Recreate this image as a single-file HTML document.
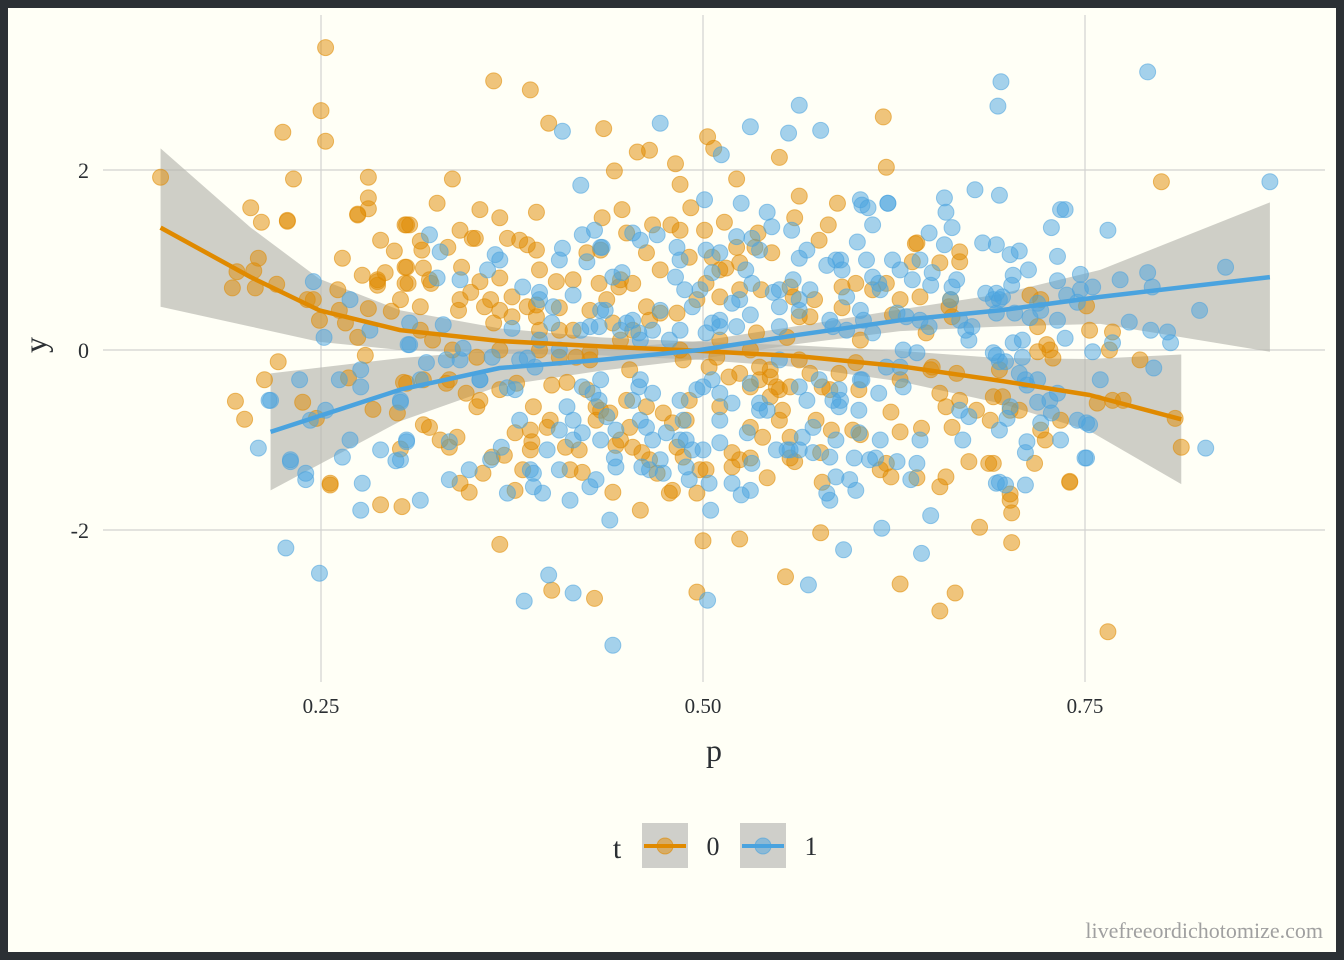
<!DOCTYPE html>
<html><head><meta charset="utf-8">
<style>
html,body{margin:0;padding:0;background:#2b3034;}
#wrap{position:absolute;left:0;top:0;width:1344px;height:960px;background:#2b3034;}
svg{position:absolute;left:0;top:0;}
text{font-family:"Liberation Serif",serif;}
</style></head>
<body>
<div id="wrap">
<svg id="chart" width="1344" height="960">
<rect x="8" y="8" width="1328" height="944" fill="#fffff6"/>
<g id="grid"></g>
<g id="bands"></g>
<g id="pts"></g>
<g id="lines"></g>
<g id="axes"></g>
<text x="714" y="761" font-size="32" text-anchor="middle" fill="#2b2f33">p</text>
<text x="0" y="0" font-size="32" text-anchor="middle" fill="#2b2f33" transform="translate(46,345) rotate(-90)">y</text>
<g>
<text x="617" y="858" font-size="30" text-anchor="middle" fill="#2b2f33">t</text>
<g>
<rect x="642" y="823" width="46" height="45" fill="#cfcfca"/>
<line x1="644" y1="846" x2="686" y2="846" stroke="#e08a00" stroke-width="4"/>
<circle cx="665" cy="846" r="8" fill="#e08a00" fill-opacity="0.5" stroke="#e08a00" stroke-opacity="0.6"/>
<text x="713" y="855" font-size="26" text-anchor="middle" fill="#2b2f33">0</text>
</g>
<g>
<rect x="740" y="823" width="46" height="45" fill="#cfcfca"/>
<line x1="742" y1="846" x2="784" y2="846" stroke="#4aa3df" stroke-width="4"/>
<circle cx="763" cy="846" r="8" fill="#4aa3df" fill-opacity="0.5" stroke="#4aa3df" stroke-opacity="0.6"/>
<text x="811" y="855" font-size="26" text-anchor="middle" fill="#2b2f33">1</text>
</g>
</g>
<text x="1323" y="938" font-size="22" text-anchor="end" fill="#a0a0a0">livefreeordichotomize.com</text>
</svg>
</div>
<script>
const xTicks=[0.25,0.5,0.75];
const xTickLabels=["0.25","0.50","0.75"];
const yTicks=[-2,0,2];
const yTickLabels=["-2","0","2"];
const orangeP=[0.145,0.194,0.192,0.204,0.211,0.225,0.228,0.232,0.253,0.250,0.253,0.274,0.281,0.287,0.308,0.315,0.326,0.336,0.351,0.363,0.387,0.399,0.435,0.442,0.457,0.465,0.482,0.485,0.503,0.507,0.522,0.550,0.563,0.588,0.618,0.620,0.639,0.668,0.800,0.765,0.655,0.665,0.629,0.554,0.577,0.524,0.496,0.500,0.478,0.401,0.429,0.367,0.347,0.321,0.302,0.289,0.256,0.238,0.213,0.200,0.221,0.209,0.241,0.262,0.279,0.315,0.341,0.367,0.393,0.406,0.426,0.446,0.465,0.485,0.511,0.537,0.550,0.563,0.583,0.603,0.629,0.649,0.668,0.688,0.707,0.721,0.734,0.766,0.775,0.809,0.813,0.740,0.701,0.681,0.702,0.655,0.616,0.603,0.577,0.560,0.524,0.465,0.446,0.433,0.354,0.334,0.433,0.446,0.472,0.485,0.511,0.524,0.393,0.380,0.361,0.321,0.400,0.413,0.387,0.550,0.629,0.662,0.721,0.727,0.694,0.753,0.341,0.289,0.302,0.249,0.786,0.459,0.498,0.328,0.544,0.531,0.367,0.406,0.491,0.452,
0.354,0.367,0.391,0.306,0.349,0.372,0.385,0.391,0.316,0.333,0.306,0.317,0.342,0.307,0.322,0.354,0.367,0.348,0.375,0.357,0.385,0.391,0.315,0.340,0.404,0.415,0.424,0.434,0.447,0.450,0.432,0.445,0.426,0.437,0.454,0.463,0.467,0.479,0.492,0.491,0.463,0.472,0.483,0.496,0.323,0.336,0.352,0.363,0.375,0.391,0.393,0.406,0.417,0.426,0.415,0.441,0.454,0.487,0.306,0.317,0.332,0.345,0.352,0.367,0.378,0.389,0.401,0.411,0.424,0.430,0.439,0.450,0.452,0.463,0.474,0.480,0.489,0.317,0.334,0.339,0.362,0.370,0.377,0.387,0.388,0.398,0.410,0.419,0.430,0.443,0.454,0.460,0.470,0.483,0.487,0.341,0.356,0.382,0.377,0.421,0.441,0.480,0.496,
0.514,0.560,0.582,0.501,0.536,0.522,0.534,0.545,0.576,0.506,0.515,0.524,0.502,0.511,0.538,0.557,0.559,0.573,0.563,0.570,0.591,0.600,0.611,0.620,0.591,0.640,0.637,0.655,0.668,0.642,0.661,0.624,0.646,0.663,0.535,0.555,0.504,0.509,0.517,0.524,0.531,0.537,0.544,0.548,0.544,0.552,0.557,0.570,0.578,0.589,0.600,0.602,0.511,0.531,0.539,0.557,0.574,0.584,0.598,0.623,0.629,0.643,0.650,0.655,0.659,0.663,0.666,0.679,0.690,0.519,0.519,0.531,0.557,0.578,0.542,0.502,0.620,0.623,0.640,0.659,0.674,0.687,
0.228,0.274,0.281,0.281,0.305,0.264,0.298,0.277,0.292,0.287,0.287,0.305,0.305,0.195,0.206,0.207,0.245,0.261,0.281,0.296,0.266,0.274,0.222,0.268,0.284,0.300,0.304,0.247,0.256,0.303,
0.714,0.751,0.719,0.768,0.725,0.719,0.729,0.758,0.768,0.696,0.701,0.724,0.717,0.690,0.740,0.701,0.702];
const orangeY=[1.92,-0.57,0.69,1.58,1.42,2.42,1.44,1.90,3.36,2.66,2.32,1.50,1.92,0.76,1.39,1.21,1.63,1.90,1.24,2.99,2.89,2.52,2.46,1.99,2.20,2.22,2.07,1.84,2.37,2.24,1.90,2.14,1.71,1.63,2.59,2.03,1.18,0.98,1.87,-3.13,-2.90,-2.70,-2.60,-2.52,-2.03,-2.10,-2.69,-2.12,-1.59,-2.67,-2.76,-2.16,-1.58,-0.86,-1.10,-1.72,-1.48,-0.58,-0.33,-0.77,0.73,1.02,0.56,0.44,-0.06,0.22,0.56,0.44,0.22,0.47,-0.11,0.11,0.33,0.0,0.11,-0.33,-0.44,-0.11,-0.44,0.11,-0.33,-0.22,-0.56,-0.78,-0.67,-0.89,-0.78,0.0,-0.56,-0.76,-1.08,-1.46,-1.60,-1.97,-2.14,-1.52,-1.33,-0.94,-1.14,-1.24,-1.22,-1.22,-1.0,-0.67,-0.56,-0.33,1.11,0.78,0.89,1.33,0.89,0.67,0.89,1.22,0.56,0.78,-0.78,-1.33,-1.11,-0.78,0.56,0.56,0.56,0.0,-0.22,0.22,1.33,1.22,0.56,0.33,-0.11,-1.78,-1.33,-1.0,-0.22,0.0,0.0,0.22,-0.56,-0.22,
1.56,1.47,1.53,1.39,1.24,1.24,1.17,1.11,1.11,1.14,0.92,0.91,0.92,0.74,0.74,0.76,0.80,0.64,0.59,0.48,0.48,0.50,0.48,0.44,0.76,0.78,1.08,1.47,1.56,1.30,0.74,0.70,0.44,0.56,0.74,1.08,1.39,1.39,1.58,1.03,0.48,0.41,0.41,0.56,0.11,0.0,-0.08,0.30,0.37,0.37,0.0,-0.08,-0.08,-0.03,0.22,0.30,0.22,-0.11,-0.37,-0.33,-0.37,-0.48,-0.63,-0.44,-0.37,-0.63,-0.39,-0.36,-0.44,-0.63,-0.70,-0.56,-0.86,-0.63,-0.70,-0.81,-0.78,-0.83,-1.08,-0.97,-1.19,-1.17,-0.92,-0.89,-1.02,-0.86,-1.08,-1.11,-0.78,-1.06,-1.08,-1.14,-1.37,-1.08,-1.19,-1.48,-1.37,-1.33,-1.56,-1.36,-1.58,-1.56,-1.59,
1.42,1.47,1.39,1.33,1.30,1.14,1.14,1.08,1.22,1.03,0.91,0.97,0.74,0.59,0.67,0.70,0.59,0.56,0.37,0.37,0.70,0.74,0.67,0.74,0.47,1.19,0.98,0.97,1.09,0.59,0.48,0.39,0.19,0.37,0.19,0.14,-0.19,-0.08,-0.30,-0.26,-0.41,-0.19,-0.30,-0.41,-0.52,-0.67,-0.41,-0.26,-0.41,-0.26,-0.14,-0.44,-0.63,-0.86,-0.97,-0.97,-0.78,-0.89,-0.89,-0.69,-0.91,-0.87,-0.19,-0.48,-0.63,-0.86,-0.26,-0.67,-0.52,-1.14,-1.30,-1.20,-1.20,-1.47,-1.42,-1.33,-1.26,-1.41,-1.42,-1.41,-1.24,-1.26,
1.43,1.51,1.57,1.69,1.39,1.02,1.10,0.83,0.86,0.78,0.72,0.92,0.74,0.87,0.88,0.69,0.56,0.67,0.46,0.43,0.30,0.14,-0.13,-0.31,-0.66,-0.70,-0.36,-0.76,-1.50,-1.74,
0.61,0.49,0.26,0.20,0.06,-0.02,-0.09,-0.59,-0.56,-0.52,-0.67,-1.0,-1.26,-1.26,-1.47,-1.67,-1.81];
const blueP=[0.791,0.695,0.693,0.472,0.512,0.531,0.556,0.563,0.577,0.420,0.408,0.871,0.842,0.829,0.806,0.793,0.765,0.734,0.694,0.678,0.658,0.603,0.621,0.501,0.459,0.433,0.321,0.217,0.230,0.227,0.249,0.240,0.209,0.276,0.383,0.399,0.415,0.441,0.503,0.569,0.592,0.617,0.643,0.649,0.711,0.750,0.753,0.727,0.711,0.694,0.672,0.662,0.649,0.629,0.616,0.603,0.583,0.563,0.550,0.524,0.511,0.498,0.485,0.472,0.459,0.446,0.433,0.420,0.406,0.393,0.380,0.354,0.341,0.315,0.302,0.276,0.262,0.236,0.269,0.282,0.341,0.367,0.393,0.406,0.485,0.537,0.590,0.642,0.694,0.721,0.747,0.773,0.825,0.380,0.406,0.433,0.459,0.485,0.511,0.537,0.563,0.590,0.616,0.642,0.668,0.694,0.334,0.361,0.387,0.413,0.439,0.465,0.491,0.505,0.531,0.557,0.583,0.609,0.636,0.315,0.289,0.269,0.243,0.734,0.760,0.459,0.550,0.603,0.433,
0.328,0.326,0.359,0.364,0.382,0.393,0.402,0.415,0.408,0.421,0.429,0.424,0.434,0.441,0.447,0.454,0.470,0.483,0.482,0.488,0.493,0.436,0.454,0.467,0.478,0.308,0.308,0.330,0.343,0.332,0.319,0.362,0.375,0.385,0.390,0.401,0.426,0.432,0.450,0.458,0.428,0.421,0.432,0.415,0.421,0.411,0.437,0.443,0.454,0.458,0.467,0.463,0.467,0.476,0.487,0.489,0.485,0.496,0.493,0.354,0.372,0.377,0.306,0.334,0.347,0.368,0.398,0.406,0.415,0.442,0.443,0.460,0.472,0.474,0.489,0.389,0.389,0.395,0.372,0.430,0.426,0.302,
0.525,0.542,0.545,0.558,0.604,0.608,0.621,0.611,0.601,0.648,0.659,0.663,0.658,0.683,0.692,0.522,0.532,0.502,0.511,0.506,0.528,0.532,0.563,0.568,0.581,0.587,0.591,0.607,0.611,0.624,0.615,0.594,0.570,0.559,0.546,0.550,0.519,0.531,0.506,0.511,0.502,0.522,0.550,0.563,0.585,0.594,0.605,0.611,0.627,0.633,0.642,0.648,0.668,0.676,0.685,0.690,0.637,0.650,0.663,0.666,0.690,0.674,0.631,0.640,0.620,0.629,0.631,0.615,0.604,0.589,0.585,0.589,0.602,0.602,0.576,0.563,0.568,0.572,0.565,0.537,0.542,0.531,0.511,0.506,0.500,0.519,0.529,0.511,0.500,0.548,0.555,0.572,0.583,0.587,0.599,0.613,0.627,0.640,0.670,0.674,0.532,0.587,0.596,0.600,0.581,0.519,0.504,0.525,0.692,
0.245,0.252,0.307,0.276,0.216,0.253,0.230,0.240,0.264,0.277,0.299,0.306,0.302,
0.737,0.728,0.701,0.707,0.732,0.713,0.703,0.702,0.732,0.747,0.755,0.692,0.696,0.738,0.719,0.745,0.704,0.714,0.732,0.692,0.779,0.791,0.794,0.737,0.703,0.709,0.692,0.698,0.709,0.755,0.768,0.707,0.719,0.712,0.732,0.719,0.728,0.745,0.751,0.701,0.699,0.721,0.712,0.711,0.751,0.694,0.698,0.795,0.804];
const blueY=[3.09,2.98,2.71,2.52,2.17,2.48,2.41,2.72,2.44,1.83,2.43,1.87,0.92,-1.09,0.08,0.22,1.33,1.56,1.72,1.78,1.69,1.67,1.63,1.67,1.22,1.14,1.28,-0.56,-1.22,-2.2,-2.48,-1.44,-1.09,-1.78,-2.79,-2.5,-2.7,-3.28,-2.78,-2.61,-2.22,-1.98,-2.26,-1.84,-1.5,-1.2,-0.83,-0.56,-0.33,-0.13,0.22,0.56,0.72,0.89,0.67,0.44,0.33,0.56,0.67,0.56,0.33,0.67,0.22,0.44,0.11,0.22,0.44,0.22,0.0,0.11,-0.11,-0.33,-0.11,-0.33,-0.56,-0.22,-0.33,-0.33,0.56,0.22,0.78,1.0,0.56,1.0,1.0,1.11,1.0,1.0,0.56,0.44,0.67,0.78,0.44,-0.78,-0.89,-1.0,-0.78,-1.0,-0.78,-0.67,-1.11,-0.56,-1.0,-1.0,-0.67,-0.89,-1.44,-1.22,-1.33,-1.67,-1.89,-1.33,-1.44,-1.78,-1.56,-1.11,-1.67,-1.22,-1.44,-1.67,-1.11,-1.0,-0.78,-1.0,-0.33,-0.33,-0.11,-0.33,-0.33,
1.09,0.80,0.89,1.06,0.70,0.64,0.48,0.61,1.13,1.28,1.33,0.98,1.14,0.81,0.86,1.30,1.28,1.14,0.81,0.67,0.48,0.44,0.33,0.22,0.11,0.30,0.06,0.28,0.02,-0.11,-0.14,-0.08,0.24,-0.09,-0.19,0.30,0.26,0.26,0.30,0.19,-0.48,-0.41,-0.56,-0.78,-0.92,-0.63,-0.74,-0.89,-0.56,-0.41,-0.48,-0.86,-1.0,-0.92,-0.78,-1.0,-0.56,-0.44,-1.11,-0.33,-0.42,-0.44,-1.0,-1.02,-1.33,-1.08,-1.11,-1.33,-1.0,-1.20,-1.30,-1.30,-1.22,-1.37,-1.30,-1.37,-1.52,-1.59,-1.59,-1.44,-1.52,-1.22,
1.63,1.53,1.37,1.33,1.61,1.58,1.63,1.39,1.20,1.30,1.53,1.36,1.17,1.19,1.17,1.26,1.24,1.11,1.08,0.86,0.89,0.74,1.02,1.11,0.94,1.0,0.89,1.0,0.81,1.0,0.74,0.59,0.67,0.78,0.64,0.48,0.52,0.39,0.30,0.26,0.19,0.26,0.26,0.44,0.26,0.22,0.33,0.19,0.41,0.37,0.33,0.26,0.33,0.26,0.63,0.56,0.78,0.86,0.70,0.78,-0.03,0.11,0.0,-0.03,-0.19,-0.19,-0.41,-0.48,-0.33,-0.44,-0.56,-0.63,-0.67,-0.92,-0.33,-0.41,-0.56,-0.86,-0.97,-0.59,-0.67,-0.37,-0.48,-0.33,-0.41,-0.59,-0.92,-1.03,-1.11,-1.11,-1.11,-1.14,-1.19,-1.0,-1.20,-1.20,-1.24,-1.26,-1.0,-0.74,-1.26,-1.41,-1.44,-1.56,-1.59,-1.48,-1.48,-1.61,-1.48,
0.76,0.14,0.06,-0.41,-0.56,-0.67,-1.24,-1.37,-1.19,-1.48,-1.23,-1.02,-0.58,
1.56,1.36,1.06,1.10,1.04,0.89,0.83,0.72,0.77,0.84,0.70,0.63,0.59,0.61,0.52,0.53,0.41,0.36,0.33,0.41,0.31,0.86,0.70,0.13,0.08,0.11,-0.06,-0.13,-0.08,-0.02,0.08,-0.26,-0.33,-0.39,-0.48,-0.58,-0.70,-0.78,-0.81,-0.63,-0.76,-0.81,-1.02,-1.14,-1.20,-1.47,-1.50,-0.20,0.20];
const orangeFitP=[0.145,0.204,0.249,0.302,0.367,0.433,0.498,0.563,0.629,0.694,0.753,0.813];
const orangeFitY=[1.36,0.81,0.44,0.22,0.10,0.04,-0.01,-0.07,-0.18,-0.34,-0.50,-0.77];
const orangeFitSE=[0.88,0.55,0.35,0.22,0.14,0.10,0.10,0.12,0.17,0.25,0.40,0.72];
const blueFitP=[0.217,0.302,0.367,0.433,0.498,0.563,0.629,0.694,0.760,0.871];
const blueFitY=[-0.91,-0.44,-0.20,-0.11,0.0,0.17,0.33,0.44,0.59,0.81];
const blueFitSE=[0.65,0.35,0.20,0.12,0.10,0.10,0.12,0.18,0.30,0.83];

const NS="http://www.w3.org/2000/svg";
const xs=v=>321+(v-0.25)*1528;
const ys=v=>350-v*90;
function mk(tag,attrs,parent){const e=document.createElementNS(NS,tag);for(const k in attrs)e.setAttribute(k,attrs[k]);parent.appendChild(e);return e;}
const grid=document.getElementById('grid'),axes=document.getElementById('axes');
xTicks.forEach((t,i)=>{
  const l=mk('line',{x1:xs(t),x2:xs(t),y1:15,y2:682,stroke:'#d2d2d0','stroke-width':1.2},grid);
  
  
  const tx=mk('text',{x:xs(t),y:713,'font-size':21,'text-anchor':'middle',fill:'#2b2f33'},axes);
  tx.textContent=xTickLabels[i];
  
  
});
yTicks.forEach((t,i)=>{
  const l=mk('line',{x1:103,x2:1325,y1:ys(t),y2:ys(t),stroke:'#d2d2d0','stroke-width':1.2},grid);
  
  
  const tx=mk('text',{x:89,y:ys(t)+8,'font-size':22,'text-anchor':'end',fill:'#2b2f33'},axes);
  tx.textContent=yTickLabels[i];
  
  
});
function band(P,Y,S,name){
  let d='M'+P.map((p,i)=>xs(p)+','+ys(Y[i]+S[i])).join('L');
  for(let i=P.length-1;i>=0;i--)d+='L'+xs(P[i])+','+ys(Y[i]-S[i]);
  const b=mk('path',{d:d+'Z',fill:'#b5b5ae','fill-opacity':0.65},document.getElementById('bands'));
  
  
}
band(orangeFitP,orangeFitY,orangeFitSE,'band-t0');
band(blueFitP,blueFitY,blueFitSE,'band-t1');
function pts(P,Y,c,name){
  const g=document.getElementById('pts');
  P.forEach((p,i)=>{
    const e=mk('circle',{cx:xs(p),cy:ys(Y[i]),r:8,fill:c,'fill-opacity':0.5,stroke:c,'stroke-opacity':0.55,'stroke-width':1},g);
    
    
  });
}
pts(orangeP,orangeY,'#e08a00','point-t0');
pts(blueP,blueY,'#4aa3df','point-t1');
function line(P,Y,c,name){
  const l=mk('path',{d:'M'+P.map((p,i)=>xs(p)+','+ys(Y[i])).join('L'),fill:'none',stroke:c,'stroke-width':4.5,'stroke-linejoin':'round'},document.getElementById('lines'));
  
  
}
line(orangeFitP,orangeFitY,'#e08a00','fit-line-t0');
line(blueFitP,blueFitY,'#4aa3df','fit-line-t1');
</script>
</body></html>
